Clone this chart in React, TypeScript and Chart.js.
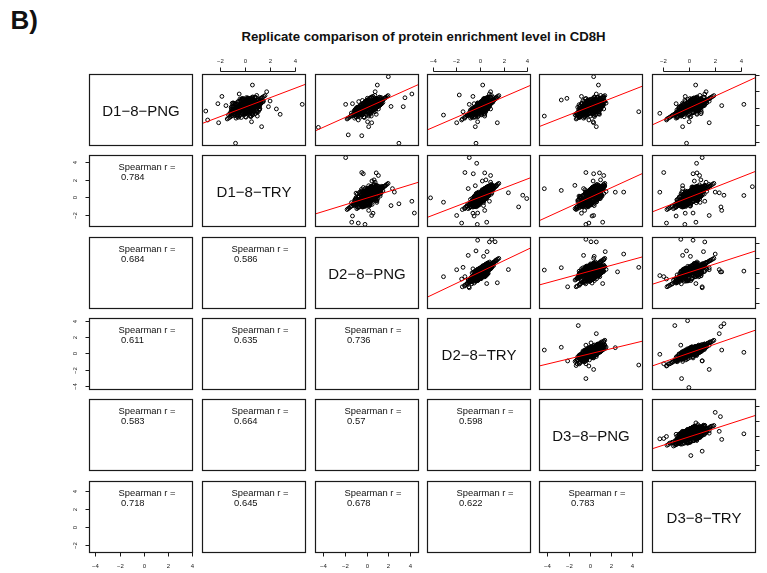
import React, { useEffect, useRef } from "react";
import { Chart, registerables } from "chart.js";

Chart.register(...registerables);

// ---------- labels, axis limits, ticks ----------
const VARIABLE_NAMES = ["D1\u22128\u2212PNG", "D1\u22128\u2212TRY", "D2\u22128\u2212PNG", "D2\u22128\u2212TRY", "D3\u22128\u2212PNG", "D3\u22128\u2212TRY"];
const AXIS_MIN = [-4.53, -3.4, -4.77, -4.5, -4.8, -2.85];
const AXIS_MAX = [4.08, 4.85, 4.86, 4.33, 5.0, 5.13];
const TICK_VALUES = [-4, -2, 0, 2, 4];

// ---------- per-protein enrichment values (null = missing) ----------
const D1_8_PNG = [
  -0.5, 0.7, 0.4, -0.3, 0.6, 0.1, -0.4, 1.0, -1.2, 0.2,
  0.3, 0.8, -0.7, 0.5, 0.4, 0.0, 1.1, -0.9, 0.1, -0.2,
  0.2, -0.3, 1.0, -0.3, -1.1, 0.7, 0.5, 0.1, 1.3, -0.4,
  0.6, 0.3, 0.2, -0.7, 0.9, -0.2, 1.2, -0.6, 0.5, 0.7,
  -0.1, 0.6, -0.3, 0.9, -0.8, 0.2, -1.1, 0.6, 0.5, 0.2,
  0.4, -0.6, 0.5, 0.1, 1.3, -0.5, 0.3, -0.2, 0.9, 0.5,
  1.1, 0.3, -0.4, 0.8, -0.1, -0.8, 0.6, 0.5, -0.6, 0.3,
  0.4, 0.5, -0.2, 0.8, 0.7, -1.0, 0.3, 0.4, 0.1, 1.4,
  -0.2, 0.5, 0.6, -1.0, 0.3, 0.6, 0.2, 0.9, -0.3, -0.4,
  0.9, 0.2, -0.6, 0.4, 1.0, -0.1, 0.3, 0.5, -1.3, 1.1,
  0.1, 0.1, 0.8, 0.3, -0.4, 0.5, 1.5, -0.7, 0.6, 0.3,
  -0.7, 0.9, -0.2, 0.6, -0.3, 0.0, 0.1, 0.8, 0.2, -1.0,
  0.5, 1.2, -0.5, 0.3, 0.4, -0.9, 0.7, 1.0, 0.2, 0.0,
  0.8, -0.3, 0.2, -0.1, 0.5, 1.3, -0.7, 0.4, 0.9, -0.5,
  0.7, 0.6, -1.2, 0.0, 0.3, 0.9, -0.4, 0.2, 0.5, -0.1,
  -0.35, 0.45, null, -1.42, null, -1.75, 0.53, 0.2, 1.69, null,
  -4.2, 3.76, 2.76, -2.3, 0.45, -0.95, 0.97, -0.43, null, null,
  null, null, null, -0.83, -0.62, null, null, null, null, null,
  0.3, 0.17, -0.1, -0.74, 0.85, 1.96, -2.22, null, null, null,
  null, null, -3.2, -3.3, 1.24, 0.17, null, null, null, null,
  null, null, -1.63, 1.57, -1.75, 1.17, 1.4,
  0.12, -0.21, 0.58, 0.47, -0.66, 0.93, 0.31, 0.38, -0.05, -0.31,
  0.49, 0.62, -0.34, -0.17, 0.86, 0.24, 0.21, -0.58, 0.77, -0.26,
  0.08, 0.19, 1.14, -0.43, 0.65, -0.22, 0.74, 0.41, -0.63, 0.09,
  0.28, 0.11, -0.24, 1.27, -0.39, 0.72, -0.36, 0.16, 0.33, 0.68,
  -0.07, 0.63, 0.27, -0.71, 0.02, 0.46, -0.28, 0.54, 0.13, 0.39,
  1.19, -0.32, 0.04, 0.71, 0.83, -0.56, 0.87, -0.45, -0.14, 0.23,
  0.57, -0.12, 0.56, 0.43, -0.63, 0.34, 0.78, -0.07, 0.19, 0.52,
  -0.47, 0.05, -0.22, 0.46, 0.55, 0.11, 0.08, 0.63, 0.62, -0.31,
  0.16, 0.68, -0.56, 0.29, -0.49, 0.77, 0.35, 0.13, -0.26, 0.53,
  -0.03, 0.24, 0.46, -0.16, 0.43, 0.6, -0.5, 0.87, 0.76, 0.05,
  -0.13, -0.33, 0.98, -0.03, 0.32, 0.54, 0.43, -0.77, 0.32, 0.56,
  0.44, 0.2, 0.05, -0.24, 0.67, -0.33, 0.6, -0.1, 0.71, 0.18,
  0.13, 0.29, -0.27, 0.86, -0.42, -0.14, 1.0, 0.25, 0.48, -0.38,
  0.81, 0.02, 0.37, -0.2, 0.92, -0.18, -0.05, 0.5, 0.16, 0.27,
  0.48, 0.19, -0.07, 0.69, -0.17, 0.08, 0.86, -0.25, -0.26, 0.77,
  0.32, 0.27, 0.66, -0.02, 0.24, 1.34, 0.11, -0.03, 0.44, -0.14,
  0.85, -0.15, 0.62, -0.88, 1.18, -0.42, -0.63, 0.31, 0.24, 1.52,
  -0.71, 0.94, -0.48, 0.26, 0.83, -1.12, 0.67, 0.55, -0.29, -0.17,
  0.29, 0.41, -0.66, -0.74, 1.05, 0.47, -1.03, 0.78, -0.31, 1.13,
  -0.08, 0.69, 0.95, -1.02, 0.36, 0.11, -0.44, 1.27, 0.58, -0.81,
  1.02, -0.55, 0.16, 1.09, -1.08, 0.82, 0.44, -0.29, 0.37, -0.39,
  0.19, 1.21, -0.93, 0.52, -0.46, 0.98, -0.71, -0.06, 0.88, 0.05,
  0.61, -0.37, -0.18, 1.14, 0.92, 0.49, -0.22, -0.81, 1.07, 0.33,
  -0.52, 0.08, 0.89, -0.28, 0.74, 0.21, 0.63, -0.47, -0.86, 1.26,
  0.46, 0.35, 1.08, -0.59, -0.12, -0.74, 0.81, 0.17, 0.92, -0.95,
  0.14, 0.58, -0.34, 0.71, -0.43, 1.16, -0.09, 0.86, -0.57, 0.27,
];
const D1_8_TRY = [
  -0.1, 0.3, 0.4, -0.8, 1.1, 0.5, 0.2, 0.5, -0.7, 0.7,
  -0.2, 1.4, -0.2, 0.0, 0.9, -0.5, 0.6, -1.0, 0.6, 0.3,
  0.8, -0.7, 1.1, 0.2, -0.5, 0.2, 0.0, -0.4, 0.8, -0.9,
  0.1, 0.9, -0.3, -0.8, 0.5, 0.4, 1.3, -0.2, 0.0, 1.2,
  -0.5, 0.2, 0.3, 1.0, -0.4, 0.8, -1.2, 0.1, 1.0, -0.3,
  0.9, -1.1, 0.0, 0.6, 0.8, 0.1, -0.1, -0.7, 0.5, 0.6,
  1.2, -0.2, -0.9, 0.3, 0.4, -1.3, 1.1, 0.0, -0.1, 0.9,
  -0.1, 1.0, -0.7, 1.3, 0.2, -0.6, 0.2, 0.9, -0.4, 1.5,
  -0.6, 0.0, 1.1, -1.1, 0.7, 0.1, -0.3, 1.0, 0.3, -0.8,
  0.5, 0.6, -1.1, -0.1, 1.1, -0.5, 0.8, 0.0, -1.4, 0.6,
  0.5, -0.4, 1.2, 0.7, -0.9, 0.0, 1.6, -0.2, 0.2, 0.2,
  -1.2, 0.4, 0.3, 1.1, -0.7, 0.5, -0.4, 1.3, 0.7, -0.6,
  0.0, 1.3, -0.1, 0.2, 0.9, -1.0, 0.2, 0.6, 0.1, 0.5,
  1.2, -0.8, 0.7, -0.6, 0.0, 1.4, -1.1, 0.3, 0.4, 0.0,
  0.2, 1.1, -1.3, 0.5, -0.2, 1.0, -0.9, 0.7, 0.0, -0.6,
  -3.1, 4.55, 3.9, -2.95, -2.85, -2.08, -2.14, -0.95, -0.45, -1.8,
  -0.74, null, 0.6, null, 0.21, 0.99, 0.79, null, null, null,
  null, null, -0.06, -0.56, 0.59, 2.84, 2.7, 1.0, null, 0.6,
  -1.5, 1.87, 2.5, 2.8, 2.0, 1.73, 1.33, 0.52, 0.24, -0.14,
  -1.1, 1.37, null, null, null, null, 1.22, null, null, null,
  0.59, null, 0.53, null, null, null, -1.82,
  0.61, -0.88, -0.17, 1.21, 0.08, 0.24, -0.41, 1.04, -0.12, 0.55,
  -0.27, 1.26, -0.98, 0.63, 0.14, -0.49, 0.97, -0.61, 0.06, 0.46,
  -0.68, 0.88, 0.53, 0.29, -0.07, -0.24, 1.43, -0.31, 0.12, 0.79,
  0.94, -0.66, 0.51, 0.59, -1.05, 0.02, 0.41, 0.87, -0.45, 0.73,
  -0.15, -0.09, 0.97, 0.04, 0.73, 0.51, -0.95, 0.47, 0.19, -0.36,
  0.45, 0.42, -0.72, 0.01, 1.48, 0.18, 0.13, -1.12, 0.59, 0.94,
  -0.14, -0.86, 1.27, 0.35, 0.09, 1.03, 0.04, -0.79, 0.91, -0.22,
  0.25, 0.76, -0.29, 1.17, -0.17, 0.82, -0.64, 0.69, -0.09, -0.36,
  0.87, -0.04, 0.16, 0.99, -0.55, 0.05, 1.07, -0.59, 0.46, 0.58,
  -0.75, 0.96, -0.26, -0.22, 0.49, 0.54, 0.22, 0.15, 0.82, -0.67,
  0.59, -0.39, 0.26, 0.69, -0.4, 1.26, -0.29, -0.05, 1.04, -0.16,
  1.16, -0.52, 0.77, -0.96, -0.05, 0.39, 0.66, -0.16, 0.65, 0.24,
  -0.59, 0.35, 0.45, 0.14, -0.48, 0.58, 0.28, -0.47, 1.2, 0.34,
  0.09, -0.7, 1.09, 0.52, 0.2, -0.9, 0.67, 0.56, 0.1, 0.99,
  0.42, 0.25, -0.79, 0.75, 0.55, 0.02, 0.8, -0.19, -0.32, 0.71,
  0.38, 0.21, -0.06, -0.74, 0.96, 0.62, 0.05, 0.69, -0.28, -0.2,
  0.12, -0.93, 1.04, 0.45, 0.28, -0.61, 0.87, 0.66, -0.88, 0.94,
  0.37, -0.12, -0.85, 1.11, -0.41, -0.28, 1.25, -0.67, 0.91, -0.33,
  1.17, -0.79, 0.58, -0.96, 0.14, 0.83, 0.05, -0.52, -0.64, 0.19,
  -1.05, 1.02, -0.27, 0.48, 0.71, -0.36, 1.06, 0.89, -1.01, 0.63,
  0.24, -0.68, 1.15, -0.39, 0.09, 1.24, -0.81, -0.47, 0.53, 0.96,
  -0.94, 0.23, -0.42, 0.77, 0.61, -0.18, -0.88, 1.19, -0.34, -0.61,
  0.88, 0.72, -1.06, -0.11, 1.31, -0.77, 1.13, -0.55, -0.26, 0.68,
  0.69, -1.09, 0.51, -0.35, -0.58, 1.02, -0.93, 0.97, -0.79, 0.13,
  -0.62, 0.81, -0.15, -0.81, 1.18, 0.57, 0.36, -1.04, -0.27, 0.42,
  1.08, -0.86, -0.02, 1.21, -0.74, -0.21, 0.66, 0.39, 0.14, 1.04,
];
const D2_8_PNG = [
  0.1, 0.6, -0.2, -0.4, 0.7, 0.6, -0.3, 0.9, -1.1, 0.2,
  0.2, 0.9, -0.6, 0.4, 0.3, -0.1, 1.0, -1.4, 0.5, -0.1,
  0.3, -0.2, 1.5, -0.2, -0.6, 0.6, 0.4, 0.0, 1.2, -0.5,
  0.5, 0.4, 0.1, -1.2, 0.9, -0.1, 1.7, -0.6, 0.4, 0.7,
  -0.1, 0.6, -0.2, 1.4, -0.8, 0.3, -1.6, 0.5, 0.6, 0.1,
  0.4, -0.7, 0.4, 0.2, 1.2, -0.4, 0.3, -0.3, 0.9, 0.1,
  1.6, 0.2, -0.5, 0.7, 0.0, -0.9, 0.7, 0.5, -0.5, 0.4,
  0.3, 0.6, -0.3, 0.9, 0.6, -1.0, -0.2, 0.8, 0.0, 1.9,
  -0.2, 0.4, 0.7, -1.5, 0.3, 0.5, 0.1, 1.4, -0.2, -0.4,
  0.9, 0.2, -0.7, 0.3, 1.5, -0.1, 0.4, 0.4, -1.8, 1.0,
  0.1, 0.0, 0.8, 0.3, -0.5, 0.4, 2.0, -0.6, 0.6, -0.2,
  -0.8, 0.8, -0.1, 0.7, -0.3, 0.1, 0.0, 0.9, 0.3, -1.0,
  0.4, 1.7, -0.5, -0.2, 0.5, -1.4, 0.6, 1.0, -0.3, 0.1,
  0.8, -0.4, 0.3, -0.2, 0.4, 1.8, -0.7, -0.1, 0.8, -0.4,
  0.6, 0.7, -1.7, 0.1, 0.2, 1.4, -0.5, 0.3, 0.4, -0.2,
  -0.14, -1.93, null, -0.76, -1.37, 0.48, -1.3, 2.27, 4.2, 4.43,
  3.0, 2.02, 1.0, -4.46, 0.3, 0.44, 0.75, 0.8, 4.55, 4.22,
  null, null, null, -0.45, -0.3, -0.44, -0.3, 2.4, 2.9, 2.58,
  0.2, 0.5, 1.1, 0.9, 0.7, 0.8, 0.2, 0.5, null, null,
  null, null, -1.69, -0.44, 3.56, 3.4, null, -1.8, -1.26, 0.2,
  null, null, 0.1, null, null, null, 0.6,
  -0.12, -0.15, 0.63, 0.41, -0.74, 1.02, 0.38, 0.26, 0.05, -0.27,
  0.53, 0.5, -0.24, 0.75, -0.02, 0.29, 1.11, -1.4, -0.08, 0.59,
  0.11, 0.1, 1.28, -0.52, 0.73, -1.05, 0.65, 0.5, -0.68, 0.0,
  1.16, -0.8, 0.65, 0.45, -0.29, -0.16, 0.55, 0.08, 0.35, 1.52,
  -0.95, 0.71, 0.19, 0.18, -0.06, 1.31, -0.2, -0.32, 0.99, 0.44,
  0.31, 0.56, 0.08, -0.14, 0.74, 0.32, -0.01, -0.37, 0.74, 0.14,
  -0.28, -0.06, 1.42, -0.45, 0.23, 0.25, 0.84, -0.93, 0.11, 0.58,
  0.39, -0.04, -1.08, 1.32, -0.31, 0.96, 0.16, 0.55, 0.7, -0.22,
  0.07, 0.76, 0.3, 0.2, -0.41, -0.09, 1.21, -0.73, 0.6, 0.44,
  0.05, 0.16, -0.4, -1.02, 1.29, -0.26, 0.36, 0.01, 0.68, 0.13,
  0.73, -0.25, 0.12, 0.83, -0.54, 0.46, 0.51, 0.09, 0.24, -0.3,
  1.3, -0.66, 0.91, -0.16, -0.19, 0.53, 0.52, -0.96, -0.15, 1.04,
  -0.73, 1.15, 0.59, 0.0, -0.34, 0.72, 0.14, 0.33, 0.4, 0.48,
  -0.05, -0.84, 0.29, 0.66, 0.06, -0.1, 0.81, 1.36, -0.7, 0.19,
  0.56, 0.11, 0.01, 0.61, 0.69, -0.78, 0.0, 0.61, -0.18, 0.85,
  0.24, 0.35, -0.2, 0.06, 1.1, 0.48, -0.75, 0.83, -0.42, -0.06,
  0.53, -0.41, 0.96, -0.66, 0.08, -0.95, 0.43, 1.21, 0.11, 0.78,
  -0.85, 0.72, -1.18, 0.39, 0.97, -0.2, 1.08, 0.31, -0.47, -1.06,
  0.64, 0.28, -0.34, -1.12, 1.26, 0.99, -0.24, -0.72, -0.58, 1.03,
  -0.41, 0.83, 0.67, -0.97, 0.92, -0.54, -0.08, 1.36, 0.23, -0.35,
  0.91, -0.93, 0.35, 0.84, -0.21, 1.06, 0.52, -1.1, 1.18, -0.16,
  -0.08, 0.49, -0.74, 1.1, -0.63, 1.02, -1.07, 0.41, 0.73, -0.93,
  1.24, -0.45, -0.31, 0.87, 1.02, 0.36, -0.29, -0.62, 0.94, 0.57,
  -0.26, -0.84, 1.31, -0.42, 0.95, 0.48, 0.27, 0.18, -1.25, 0.39,
  0.29, 1.07, 0.82, -0.77, 0.38, -0.46, 1.28, -0.11, -0.38, 0.22,
  0.41, 0.33, -0.97, 1.15, -0.59, 0.84, -0.45, 0.72, -0.31, 1.09,
];
const D2_8_TRY = [
  -0.3, 0.4, 0.2, -0.5, 0.8, 0.2, 0.0, 0.6, -0.8, 0.5,
  0.1, 1.0, -0.3, 0.3, 0.5, -0.4, 0.7, -1.1, 0.2, 0.2,
  0.6, -0.4, 1.2, 0.1, -0.7, 0.3, 0.3, -0.1, 0.9, -0.6,
  0.2, 0.7, 0.0, -0.9, 0.6, 0.2, 1.4, -0.3, 0.3, 0.8,
  -0.2, 0.5, 0.1, 1.1, -0.5, 0.4, -1.3, 0.2, 0.7, 0.0,
  0.7, -0.8, 0.3, 0.5, 0.9, -0.1, 0.2, -0.4, 0.6, 0.4,
  1.3, 0.1, -0.6, 0.4, 0.3, -1.0, 0.8, 0.2, -0.2, 0.7,
  0.0, 0.9, -0.4, 1.0, 0.5, -0.7, 0.1, 0.5, -0.1, 1.5,
  -0.3, 0.3, 0.8, -1.2, 0.6, 0.2, 0.0, 1.1, 0.1, -0.5,
  0.6, 0.5, -0.8, 0.2, 1.2, -0.2, 0.5, 0.3, -1.5, 0.7,
  0.4, -0.1, 0.9, 0.6, -0.6, 0.3, 1.6, -0.3, 0.5, 0.1,
  -0.9, 0.5, 0.2, 0.8, -0.4, 0.4, -0.1, 1.0, 0.4, -0.7,
  0.3, 1.3, -0.2, 0.1, 0.6, -1.1, 0.5, 0.7, 0.0, 0.4,
  0.9, -0.5, 0.4, -0.3, 0.3, 1.4, -0.8, 0.2, 0.5, -0.1,
  0.5, 0.8, -1.3, 0.4, 0.1, 1.1, -0.6, 0.6, 0.3, -0.3,
  -0.23, -0.91, -0.28, -1.56, 0.57, -1.98, -0.5, 0.3, 0.8, -0.2,
  -0.34, null, 0.23, null, 0.12, 0.4, 0.74, -1.44, 1.0, 1.28,
  4.0, 3.4, -4.2, -3.1, -0.12, -1.28, -0.57, -1.0, 0.6, null,
  0.4, 0.2, 0.9, 0.4, 0.5, 0.9, -0.4, 2.41, 3.63, 3.97,
  3.28, null, null, null, null, null, null, -0.94, 1.47, null,
  0.69, null, -0.2, -1.76, 1.47, null, -0.6,
  0.58, -0.41, -0.09, 0.65, -0.5, 0.74, 0.14, 0.5, -0.67, 0.45,
  -0.17, 0.74, -0.48, 0.51, 0.22, 0.05, 0.41, -0.7, 0.62, -0.11,
  -0.13, 0.34, 0.58, 0.18, 0.49, -0.81, 0.89, 0.26, -0.44, 0.7,
  0.46, -0.1, 0.41, 0.69, -0.53, 0.08, 0.31, 0.32, 0.11, 0.82,
  -0.25, 0.47, 0.43, -0.52, 0.64, 0.61, -0.44, -0.08, 0.75, 0.2,
  0.55, 0.32, -0.16, 0.56, 0.98, -0.38, 0.23, -0.61, 0.5, 0.38,
  0.42, -0.3, 0.72, -0.21, -0.01, 0.49, 0.6, -0.23, 0.35, 0.34,
  0.15, 0.2, -0.38, 0.62, 0.39, 0.26, -0.54, 0.79, 0.0, -0.46,
  0.31, 0.52, -0.4, 0.44, -0.65, 0.61, 0.51, -0.03, 0.36, 0.68,
  -0.19, 0.4, 0.3, -0.32, 0.59, 0.44, -0.34, 0.25, 0.92, -0.11,
  0.03, -0.49, 0.36, 0.59, 0.16, 0.7, -0.19, -0.15, 0.48, 0.4,
  0.6, 0.04, 0.21, -0.4, 0.51, -0.17, 0.76, -0.26, 0.09, 0.34,
  -0.03, 0.45, 0.35, 0.24, -0.58, 0.48, 0.38, 0.09, 0.64, -0.22,
  0.19, -0.14, 0.53, 0.42, 0.3, -0.34, 0.57, 0.66, 0.0, 0.43,
  -0.14, 0.35, -0.23, 0.85, 0.45, -0.08, 0.24, 0.37, -0.42, 0.15,
  0.48, 0.11, 0.04, -0.18, 0.4, 0.72, -0.05, 0.13, 0.28, -0.3,
  0.38, -0.62, 0.84, -0.31, 0.59, -0.72, 0.18, 0.71, -0.27, 0.97,
  -0.34, 0.46, -0.88, 0.73, 0.28, -0.55, 1.02, -0.12, 0.41, -0.63,
  0.82, -0.25, 0.36, -0.93, 0.64, 0.87, -0.47, 0.09, -0.76, 0.51,
  -0.58, 0.94, 0.24, -0.19, 0.81, -0.43, 0.44, 1.12, -0.22, 0.15,
  0.56, -0.81, 0.67, 0.31, -0.36, 1.04, -0.06, -0.66, 0.78, 0.35,
  -0.29, 0.61, -0.69, 0.86, 0.13, 0.49, -0.91, 0.66, 0.27, -0.41,
  0.92, 0.18, -0.5, 0.43, 1.15, -0.13, 0.54, -0.79, 0.35, 0.69,
  0.22, -0.33, 1.01, -0.54, 0.31, 0.74, -0.19, 0.47, -1.04, 0.58,
  0.04, 0.79, 0.42, -0.73, 0.62, 0.07, 0.95, -0.39, 0.29, -0.14,
  0.63, -0.07, -0.35, 1.09, -0.6, 0.33, 0.21, 0.8, -0.46, 0.45,
];
const D3_8_PNG = [
  0.0, 0.2, 0.3, -0.9, 0.6, 0.5, 0.1, 0.4, -0.6, 0.6,
  -0.3, 0.8, -0.1, 0.5, 0.8, -0.6, 0.5, -0.9, 0.5, 0.4,
  0.7, -0.8, 1.0, 0.3, -0.5, 0.1, -0.1, -0.5, 0.7, -1.0,
  0.0, 0.8, -0.4, -0.7, 0.4, 0.4, 1.1, -0.1, -0.1, 1.1,
  -0.6, 0.1, 0.4, 0.9, -0.3, 0.7, -1.0, 0.0, 1.1, -0.4,
  0.8, -1.2, -0.1, 0.7, 0.7, 0.2, -0.2, -0.8, 0.4, 0.7,
  1.0, -0.3, -1.0, 0.2, 0.5, -1.4, 1.2, 0.1, 0.0, 1.0,
  -0.2, 1.1, -0.8, 1.4, 0.1, -0.5, 0.3, 1.0, -0.5, 1.3,
  -0.7, -0.1, 1.2, -1.0, 0.8, 0.0, -0.4, 0.9, 0.4, -0.9,
  0.4, 0.7, -1.2, -0.2, 1.0, -0.6, 0.9, -0.1, -1.3, 0.5,
  0.6, -0.5, 1.3, 0.8, -1.0, -0.1, 1.4, -0.1, 0.1, 0.3,
  -1.3, 0.3, 0.4, 1.2, -0.8, 0.6, -0.5, 1.4, 0.8, -0.5,
  -0.1, 1.2, 0.0, 0.3, 1.0, -0.9, 0.1, 0.5, 0.2, 0.6,
  1.3, -0.9, 0.8, -0.7, -0.1, 1.3, -1.2, 0.4, 0.3, 0.1,
  0.1, 1.2, -1.2, 0.6, -0.3, 0.9, -1.0, 0.8, -0.1, -0.7,
  -0.38, null, null, -0.1, 1.2, 0.35, 0.2, 0.4, 0.6, null,
  null, 0.35, 0.8, null, 0.26, -4.3, -2.7, 4.6, -0.38, 0.1,
  null, -1.1, null, -0.38, -0.42, -0.38, 0.35, -0.6, 1.44, 3.18,
  -0.5, 0.3, 1.3, 0.9, 1.0, null, 0.6, 0.6, null, null,
  null, -1.42, null, null, null, null, null, -2.1, null, 2.6,
  2.39, 1.75, 0.3, null, null, -2.17, -0.8,
  0.88, -0.09, -0.39, 0.35, 0.26, -0.02, -0.62, 1.26, -0.97, 0.75,
  0.59, 0.44, -0.18, -0.25, 0.98, -0.71, 0.11, -0.4, 0.92, -0.41,
  0.17, 1.1, 0.28, 0.48, -0.27, -0.05, 0.59, -0.5, 0.32, 1.0,
  0.16, 0.2, 0.71, 0.39, -0.23, 0.84, -0.45, 1.08, -0.65, 0.52,
  0.05, -0.29, 1.19, -0.82, 0.94, 0.31, -0.14, 0.68, -0.01, 0.5,
  1.31, -0.44, 0.14, 0.86, 0.68, -0.68, 0.99, -0.31, -0.26, 0.08,
  0.72, 0.0, 0.42, -0.51, 0.29, 1.25, -0.16, 0.07, 1.11, -0.42,
  -0.61, 0.96, -0.08, 0.32, 0.69, -0.04, 0.22, 0.49, 0.76, -0.16,
  0.01, 0.82, -0.7, 1.2, -0.35, 0.91, 0.21, 0.27, -0.4, 0.38,
  0.11, 0.1, 0.6, -0.02, 0.29, -0.32, -0.64, 1.01, 0.62, 0.19,
  -0.27, -0.19, 1.12, -0.17, 0.46, 0.4, 0.57, -0.91, 0.18, 0.7,
  0.3, 0.34, -0.09, -0.1, 0.81, 0.59, 1.52, 0.04, -0.21, 0.04,
  0.27, 0.15, -0.41, 1.0, -0.28, 0.78, 0.08, -0.67, 0.34, 0.54,
  0.95, 0.16, 0.23, -0.34, 1.06, -0.04, -0.19, 0.36, 0.3, 1.19,
  -0.44, 1.11, 0.07, 0.55, -0.31, 0.22, 1.0, -0.39, -0.12, 0.91,
  0.18, 0.41, 0.8, -0.94, 0.1, 0.42, 0.25, 0.89, -0.48, 0.0,
  -0.21, -0.35, 1.12, 0.38, 0.94, -0.78, -0.46, 0.52, -0.9, 1.01,
  0.26, 0.87, -0.62, 0.55, -0.33, -1.06, 0.92, 0.44, 0.13, -0.48,
  0.71, -1.02, 0.84, -0.72, 0.05, 1.19, -0.94, 0.63, -0.39, 0.27,
  -0.63, 0.58, -0.19, 0.42, 1.08, -1.15, 0.86, 0.79, -0.77, 0.54,
  0.47, -0.29, 0.53, -0.46, -0.92, 0.68, 0.31, -0.55, 0.22, 0.85,
  -1.01, 0.94, -0.35, 0.61, 0.44, -0.12, -0.53, 1.05, -0.66, 0.09,
  0.38, 0.57, -0.74, 0.97, 0.76, -0.81, 0.22, -1.12, 0.68, 0.14,
  0.83, -0.16, 0.42, -1.08, -0.23, 0.91, -0.72, 0.26, -0.49, 1.14,
  -0.44, 0.29, 0.96, -0.38, 1.03, 0.46, 0.59, -0.64, 0.71, 0.02,
  0.58, 0.12, -0.81, 0.66, -0.25, -0.37, 0.93, 0.48, -1.03, 0.35,
];
const D3_8_TRY = [
  -0.4, 0.6, 0.0, -0.7, 1.0, 0.1, -0.2, 0.8, -1.0, 0.3,
  0.1, 1.2, -0.5, 0.1, 0.5, -0.2, 0.9, -1.3, 0.2, 0.0,
  0.4, -0.6, 1.4, -0.1, -0.9, 0.5, 0.3, -0.3, 1.1, -0.8,
  0.4, 0.5, 0.0, -1.1, 0.8, 0.0, 1.6, -0.5, 0.3, 0.8,
  -0.2, 0.5, -0.1, 1.3, -0.7, 0.4, -1.5, 0.4, 0.7, 0.0,
  0.5, -1.0, 0.3, 0.3, 1.1, -0.3, 0.0, -0.6, 0.8, 0.2,
  1.5, -0.1, -0.8, 0.6, 0.1, -1.2, 1.0, 0.4, -0.4, 0.5,
  0.2, 0.7, -0.6, 1.2, 0.3, -0.9, -0.1, 0.7, -0.3, 1.8,
  -0.5, 0.3, 1.0, -1.4, 0.4, 0.4, -0.2, 1.3, -0.1, -0.7,
  0.8, 0.3, -1.0, 0.0, 1.4, -0.4, 0.7, 0.1, -1.7, 0.9,
  0.2, -0.3, 1.1, 0.4, -0.8, 0.1, 1.9, -0.5, 0.3, -0.1,
  -1.1, 0.7, 0.0, 1.0, -0.6, 0.2, -0.3, 1.2, 0.6, -0.9,
  0.1, 1.6, -0.4, -0.1, 0.8, -1.3, 0.3, 0.9, -0.2, 0.2,
  1.1, -0.7, 0.6, -0.5, 0.1, 1.7, -1.0, 0.0, 0.7, -0.3,
  0.3, 1.0, -1.6, 0.2, -0.1, 1.3, -0.8, 0.4, 0.1, -0.5,
  -0.33, 1.0, 0.57, -1.74, 0.52, 1.54, -1.0, 0.1, 1.2, 0.3,
  -0.2, null, 0.5, null, 4.2, null, 0.13, null, -0.64, null,
  -0.12, -1.1, -0.02, -0.58, -2.25, -1.95, 0.3, -0.5, 1.1, 2.0,
  2.5, 0.4, 0.8, 0.6, 0.9, 1.3, -0.5, 2.31, 2.67, null,
  2.44, null, null, null, null, null, 4.85, 1.0, null, 2.4,
  null, 0.52, 0.0, null, null, null, -0.3,
  0.02, -0.29, 0.59, 1.21, -0.72, 0.18, 0.36, 0.4, -0.11, 0.67,
  -0.39, 0.64, -0.38, 0.73, 0.12, -0.63, 0.97, -0.6, 0.06, 0.57,
  -0.03, 0.9, 0.48, -0.5, 0.71, -0.25, 0.79, 0.48, -0.66, 0.14,
  1.02, -0.78, -0.15, 0.59, -0.43, 0.76, -0.37, 0.88, 0.33, 0.6,
  -0.81, 0.69, 0.33, 0.04, 0.86, 0.39, -0.34, 0.6, 0.19, -0.48,
  0.45, 0.54, -0.06, -0.12, 1.54, 0.3, 0.13, -0.51, 0.72, 0.94,
  0.64, -0.2, 1.28, 0.47, -0.57, 0.39, 0.82, -0.13, 0.25, 0.56,
  0.37, 0.1, -0.94, 0.52, 0.61, 0.82, -0.64, 1.35, -0.1, -0.24,
  0.99, -0.04, 0.28, 0.34, -0.43, 0.83, 0.41, -0.59, 0.58, 0.46,
  -0.09, 0.96, -0.26, -0.1, 0.37, 0.66, -0.44, 0.93, 0.82, 0.11,
  0.71, -0.39, 0.26, 0.81, -0.4, 0.6, 0.49, -0.05, 1.16, -0.16,
  0.5, 0.26, 0.89, -0.3, 0.73, -0.27, 0.66, -0.04, 0.77, 0.24,
  0.19, 1.01, -0.21, 0.92, -0.48, 0.7, 0.28, 0.31, 0.54, 0.46,
  0.87, -0.04, 0.43, -0.26, 0.2, -0.24, 0.79, 0.56, 0.22, 0.33,
  0.54, 0.25, -0.13, 0.75, 0.67, -0.76, 0.14, 0.59, -0.2, 0.05,
  1.16, -0.45, 0.72, -0.08, 0.3, 0.62, 0.17, 0.03, 0.5, -0.2,
  0.67, -0.55, 0.48, -0.04, 0.33, -0.86, 0.59, 1.09, -0.21, 0.82,
  -0.57, 0.31, -0.96, 0.86, 0.65, -0.92, 1.17, 0.12, 0.74, -0.39,
  0.43, -0.12, 0.91, -1.04, 0.48, 0.66, -0.38, -0.29, -0.81, 0.94,
  -0.26, 1.11, -0.33, 0.13, 0.54, -0.63, 0.27, 1.18, 0.09, -0.55,
  0.79, -0.88, 0.28, 0.62, 0.07, 0.93, -0.47, -0.73, 0.49, 0.63,
  -0.73, 0.36, -0.58, 0.98, -0.24, 0.81, -0.84, 0.27, 0.58, -0.2,
  1.03, -0.28, -0.61, 0.06, 1.18, 0.12, 0.91, -0.52, -0.11, 0.88,
  -0.14, -0.47, 0.73, -0.68, 0.84, 0.37, 0.05, 0.94, -0.92, 0.51,
  0.55, 0.64, 0.18, -0.86, 0.21, -0.31, 1.02, -0.43, 0.46, -0.62,
  0.32, -0.51, -0.19, 1.04, -0.71, 0.58, 0.44, 0.23, -0.37, 0.78,
];

// ---------- fitted lines (upper panels, row-major) and Spearman r (lower panels, row-major) ----------
const FIT_INTERCEPT = [0.1, 0.03, 0.116, 0.166, 0.015, -0.1, 0.02, -0.02, -0.01, 0.17, 0.29, 0.13, -0.06, 0.02, -0.15];
const FIT_SLOPE = [0.572, 0.58, 0.608, 0.497, 0.714, 0.38, 0.518, 0.556, 0.586, 0.75, 0.386, 0.563, 0.313, 0.554, 0.573];
const SPEARMAN_R = ["0.784", "0.684", "0.586", "0.611", "0.635", "0.736", "0.583", "0.664", "0.57", "0.598", "0.718", "0.645", "0.678", "0.622", "0.783"];

const SERIES = [D1_8_PNG, D1_8_TRY, D2_8_PNG, D2_8_TRY, D3_8_PNG, D3_8_TRY];
const NV = VARIABLE_NAMES.length;

// ---------- layout ----------
const COL_LEFT = [89, 202, 315, 427, 539, 652];
const ROW_TOP = [74, 155, 237, 318, 399, 481];
const BOX_W = 104;
const BOX_H = 72;
const MARGIN = 30;
const FONT = '"Liberation Sans", Arial, Helvetica, sans-serif';

function upperIndex(r: number, c: number) {
  let k = 0;
  for (let i = 0; i < NV; i++) for (let j = i + 1; j < NV; j++) { if (i === r && j === c) return k; k++; }
  return -1;
}
function lowerIndex(r: number, c: number) {
  let k = 0;
  for (let i = 1; i < NV; i++) for (let j = 0; j < i; j++) { if (i === r && j === c) return k; k++; }
  return -1;
}
const fmtTick = (t: number) => (t < 0 ? "\u2212" + Math.abs(t) : String(t));

const pairsPlugin = {
  id: "pairsPanel",
  afterDraw(chart: any, _args: any, opts: any) {
    const { ctx, chartArea: a } = chart;
    const xs = chart.scales.x;
    const ys = chart.scales.y;
    const r = opts.row;
    const c = opts.col;
    ctx.save();
    ctx.strokeStyle = "#1a1a1a";
    ctx.lineWidth = 1.2;
    ctx.strokeRect(a.left + 0.5, a.top + 0.5, a.right - a.left - 1, a.bottom - a.top - 1);
    ctx.fillStyle = "#111";
    if (r === c) {
      ctx.font = `15px ${FONT}`;
      ctx.textAlign = "center";
      ctx.textBaseline = "alphabetic";
      ctx.fillText(VARIABLE_NAMES[r], (a.left + a.right) / 2, (a.top + a.bottom) / 2 + 5.5);
    } else if (r > c) {
      const k = lowerIndex(r, c);
      ctx.font = `9.4px ${FONT}`;
      ctx.textAlign = "left";
      ctx.textBaseline = "alphabetic";
      ctx.fillText("Spearman r =", a.left + 29.5, a.top + 14.5);
      ctx.fillText(" " + SPEARMAN_R[k], a.left + 29.5, a.top + 24.5);
    }
    ctx.strokeStyle = "#1a1a1a";
    ctx.lineWidth = 1;
    ctx.fillStyle = "#222";
    ctx.font = `6px ${FONT}`;
    ctx.textAlign = "center";
    ctx.textBaseline = "middle";
    const tx = TICK_VALUES.filter((t) => t >= xs.min && t <= xs.max);
    const ty = TICK_VALUES.filter((t) => t >= ys.min && t <= ys.max);
    const px = (t: number) => Math.round(xs.getPixelForValue(t)) + 0.5;
    const py = (t: number) => Math.round(ys.getPixelForValue(t)) + 0.5;
    const seg = (x1: number, y1: number, x2: number, y2: number) => {
      ctx.beginPath();
      ctx.moveTo(x1, y1);
      ctx.lineTo(x2, y2);
      ctx.stroke();
    };
    const rotText = (s: string, x: number, y: number) => {
      ctx.save();
      ctx.translate(x, y);
      ctx.rotate(-Math.PI / 2);
      ctx.fillText(s, 0, 0);
      ctx.restore();
    };
    if (r === NV - 1 && c % 2 === 0) {
      const y = a.bottom - 0.5;
      seg(px(tx[0]), y, px(tx[tx.length - 1]), y);
      tx.forEach((t) => { seg(px(t), y, px(t), y + 4); ctx.fillText(fmtTick(t), px(t), a.bottom + 13); });
    }
    if (r === 0 && c % 2 === 1) {
      const y = a.top - 2.5;
      seg(px(tx[0]), y, px(tx[tx.length - 1]), y);
      tx.forEach((t) => { seg(px(t), y, px(t), y - 4); ctx.fillText(fmtTick(t), px(t), a.top - 13); });
    }
    if (c === 0 && r % 2 === 1) {
      const x = a.left + 0.5;
      seg(x, py(ty[0]), x, py(ty[ty.length - 1]));
      ty.forEach((t) => { seg(x, py(t), x - 4, py(t)); rotText(fmtTick(t), a.left - 14, py(t)); });
    }
    if (c === NV - 1 && r % 2 === 0) {
      const x = a.right - 0.5;
      seg(x, py(ty[0]), x, py(ty[ty.length - 1]));
      ty.forEach((t) => { seg(x, py(t), x + 4, py(t)); rotText(fmtTick(t), a.right + 14, py(t)); });
    }
    ctx.restore();
  },
};

function Panel({ row, col }: { row: number; col: number }) {
  const ref = useRef<HTMLCanvasElement | null>(null);
  useEffect(() => {
    if (!ref.current) return;
    const datasets: any[] = [];
    if (row < col) {
      const k = upperIndex(row, col);
      const xv = SERIES[col];
      const yv = SERIES[row];
      const pts: { x: number; y: number }[] = [];
      for (let i = 0; i < xv.length; i++) {
        const x = xv[i];
        const y = yv[i];
        if (x !== null && y !== null && x !== undefined && y !== undefined) pts.push({ x, y });
      }
      const x0 = AXIS_MIN[col];
      const x1 = AXIS_MAX[col];
      datasets.push({
        type: "line",
        data: [
          { x: x0, y: FIT_INTERCEPT[k] + FIT_SLOPE[k] * x0 },
          { x: x1, y: FIT_INTERCEPT[k] + FIT_SLOPE[k] * x1 },
        ],
        borderColor: "#ff0000",
        borderWidth: 1,
        pointRadius: 0,
        showLine: true,
        fill: false,
        tension: 0,
      });
      datasets.push({
        type: "scatter",
        data: pts,
        pointStyle: "circle",
        pointRadius: 1.9,
        pointBorderWidth: 1,
        pointBorderColor: "#000",
        pointBackgroundColor: "rgba(0,0,0,0)",
        showLine: false,
      });
    }
    const chart = new Chart(ref.current, {
      type: "scatter",
      data: { datasets },
      options: {
        responsive: false,
        animation: false,
        devicePixelRatio: 1,
        events: [],
        layout: { padding: MARGIN },
        scales: {
          x: { type: "linear", min: AXIS_MIN[col], max: AXIS_MAX[col], display: false },
          y: { type: "linear", min: AXIS_MIN[row], max: AXIS_MAX[row], display: false },
        },
        plugins: {
          legend: { display: false },
          tooltip: { enabled: false },
          title: { display: false },
          pairsPanel: { row, col },
        },
      } as any,
      plugins: [pairsPlugin],
    } as any);
    return () => chart.destroy();
  }, [row, col]);
  const w = BOX_W + 2 * MARGIN;
  const h = BOX_H + 2 * MARGIN;
  return (
    <canvas
      ref={ref}
      width={w}
      height={h}
      style={{ position: "absolute", left: COL_LEFT[col] - MARGIN, top: ROW_TOP[row] - MARGIN, width: w, height: h }}
    />
  );
}

export default function App() {
  const panels: any[] = [];
  for (let r = 0; r < NV; r++) for (let c = 0; c < NV; c++) panels.push(<Panel key={`${r}-${c}`} row={r} col={c} />);
  return (
    <div style={{ position: "fixed", left: 0, top: 0, width: 767, height: 573, overflow: "hidden", background: "#fff" }}>
      <div style={{ position: "absolute", left: 10.4, top: 7.3, font: `bold 26px ${FONT}`, lineHeight: "26px", color: "#111" }}>B)</div>
      <div
        style={{
          position: "absolute",
          left: 423.5,
          top: 29.5,
          transform: "translateX(-50%)",
          whiteSpace: "nowrap",
          font: `bold 13.2px ${FONT}`,
          lineHeight: "13.2px",
          color: "#111",
        }}
      >
        Replicate comparison of protein enrichment level in CD8H
      </div>
      {panels}
    </div>
  );
}
